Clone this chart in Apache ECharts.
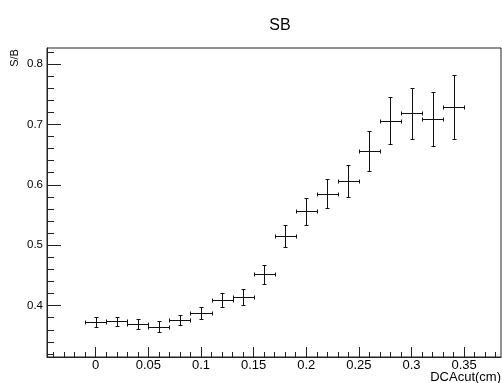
<!DOCTYPE html>
<html>
<head>
<meta charset="utf-8">
<script src="https://cdn.jsdelivr.net/npm/echarts@6/dist/echarts.min.js"></script>
<style>
html,body{margin:0;padding:0;background:#fff;}
#c{width:502px;height:383px;}
</style>
</head>
<body>
<div id="c"></div>
<script>
// ---- data ----
var xCenters = [0, 0.02, 0.04, 0.06, 0.08, 0.10, 0.12, 0.14, 0.16, 0.18, 0.20, 0.22, 0.24, 0.26, 0.28, 0.30, 0.32, 0.34];
var xErrors  = [0.01, 0.01, 0.01, 0.01, 0.01, 0.01, 0.01, 0.01, 0.01, 0.01, 0.01, 0.01, 0.01, 0.01, 0.01, 0.01, 0.01, 0.01];
var yValues  = [0.373, 0.374, 0.369, 0.365, 0.376, 0.388, 0.410, 0.414, 0.452, 0.515, 0.556, 0.585, 0.606, 0.656, 0.706, 0.718, 0.709, 0.729];
var yErrors  = [0.0077, 0.008, 0.0083, 0.0088, 0.0088, 0.010, 0.0116, 0.013, 0.0154, 0.018, 0.0223, 0.024, 0.027, 0.033, 0.0386, 0.043, 0.045, 0.053];
var xMajorTicks = [0, 0.05, 0.1, 0.15, 0.2, 0.25, 0.3, 0.35];
var xMinorTicks = [-0.04,-0.03,-0.02,-0.01,0,0.01,0.02,0.03,0.04,0.05,0.06,0.07,0.08,0.09,0.1,0.11,0.12,0.13,0.14,0.15,0.16,0.17,0.18,0.19,0.2,0.21,0.22,0.23,0.24,0.25,0.26,0.27,0.28,0.29,0.3,0.31,0.32,0.33,0.34,0.35,0.36,0.37,0.38];
var yMajorTicks = [0.4, 0.5, 0.6, 0.7, 0.8];
var yMinorTicks = [0.32,0.34,0.36,0.38,0.4,0.42,0.44,0.46,0.48,0.5,0.52,0.54,0.56,0.58,0.6,0.62,0.64,0.66,0.68,0.7,0.72,0.74,0.76,0.78,0.8,0.82];
var titleText = 'SB';
var xTitle = 'DCAcut(cm)';
var yTitle = 'S/B';

var X_MIN = -0.0463, X_MAX = 0.385;
var Y_MIN = 0.315, Y_MAX = 0.8264;
var FONT = 'Liberation Sans, Arial, Helvetica, sans-serif';

var chart = echarts.init(document.getElementById('c'), null, {renderer: 'canvas'});

var pts = xCenters.map(function (x, i) { return [x, yValues[i], xErrors[i], yErrors[i]]; });

function fmt(v) { return String(Math.round(v * 1000) / 1000); }

function axisBase(extra) {
  return Object.assign({
    type: 'value',
    splitLine: {show: false}
  }, extra);
}

var option = {
  animation: false,
  backgroundColor: '#fff',
  title: {
    text: titleText, left: 275, top: 13, textAlign: 'center',
    textStyle: {fontFamily: FONT, fontSize: 16, fontWeight: 'normal', color: '#000'}
  },
  grid: {
    left: 47, top: 48, right: 1, bottom: 26,
    show: true, borderColor: '#222', borderWidth: 1, backgroundColor: 'transparent'
  },
  xAxis: [
    axisBase({
      min: X_MIN, max: X_MAX, position: 'bottom',
      axisLine: {show: true, onZero: false, lineStyle: {color: '#222', width: 1}},
      axisTick: {show: true, inside: true, length: 10, customValues: xMajorTicks, lineStyle: {color: '#222'}},
      axisLabel: {show: true, customValues: xMajorTicks, margin: 2, formatter: fmt,
        fontFamily: FONT, fontSize: 13, color: '#000'}
    }),
    axisBase({
      min: X_MIN, max: X_MAX, position: 'bottom',
      axisLine: {show: false, onZero: false},
      axisTick: {show: true, inside: true, length: 5, customValues: xMinorTicks, lineStyle: {color: '#222'}},
      axisLabel: {show: false}
    })
  ],
  yAxis: [
    axisBase({
      min: Y_MIN, max: Y_MAX, position: 'left',
      axisLine: {show: true, onZero: false, lineStyle: {color: '#222', width: 1}},
      axisTick: {show: true, inside: true, length: 14, customValues: yMajorTicks, lineStyle: {color: '#222'}},
      axisLabel: {show: true, customValues: yMajorTicks, margin: 4, formatter: fmt,
        fontFamily: FONT, fontSize: 11.5, color: '#000'}
    }),
    axisBase({
      min: Y_MIN, max: Y_MAX, position: 'left',
      axisLine: {show: false, onZero: false},
      axisTick: {show: true, inside: true, length: 7, customValues: yMinorTicks, lineStyle: {color: '#222'}},
      axisLabel: {show: false}
    })
  ],
  graphic: [
    {
      type: 'text', x: 501, y: 377,
      style: {text: xTitle, fontFamily: FONT, fontSize: 13, fill: '#000', align: 'right', verticalAlign: 'middle'}
    },
    {
      type: 'text', x: 15, y: 58, rotation: Math.PI / 2,
      style: {text: yTitle, fontFamily: FONT, fontSize: 11, fill: '#000', align: 'center', verticalAlign: 'middle'}
    }
  ],
  series: [{
    type: 'custom',
    xAxisIndex: 0, yAxisIndex: 0,
    data: pts,
    clip: false,
    renderItem: function (params, api) {
      var x = api.value(0), y = api.value(1), ex = api.value(2), ey = api.value(3);
      var c = api.coord([x, y]);
      var l = api.coord([x - ex, y]);
      var r = api.coord([x + ex, y]);
      var t = api.coord([x, y + ey]);
      var b = api.coord([x, y - ey]);
      var cx = Math.round(c[0]) + 0.5, cy = Math.round(c[1]) + 0.5;
      var lx = Math.round(l[0]) + 0.5, rx = Math.round(r[0]) + 0.5;
      var ty = Math.round(t[1]) + 0.5, by = Math.round(b[1]) + 0.5;
      var cap = 2;
      var st = {stroke: '#111', lineWidth: 1};
      function ln(x1, y1, x2, y2) { return {type: 'line', shape: {x1: x1, y1: y1, x2: x2, y2: y2}, style: st}; }
      return {
        type: 'group',
        children: [
          ln(lx, cy, rx, cy),
          ln(cx, ty, cx, by),
          ln(lx, cy - cap, lx, cy + cap),
          ln(rx, cy - cap, rx, cy + cap),
          ln(cx - cap, ty, cx + cap, ty),
          ln(cx - cap, by, cx + cap, by)
        ]
      };
    }
  }]
};

chart.setOption(option);
</script>
</body>
</html>
